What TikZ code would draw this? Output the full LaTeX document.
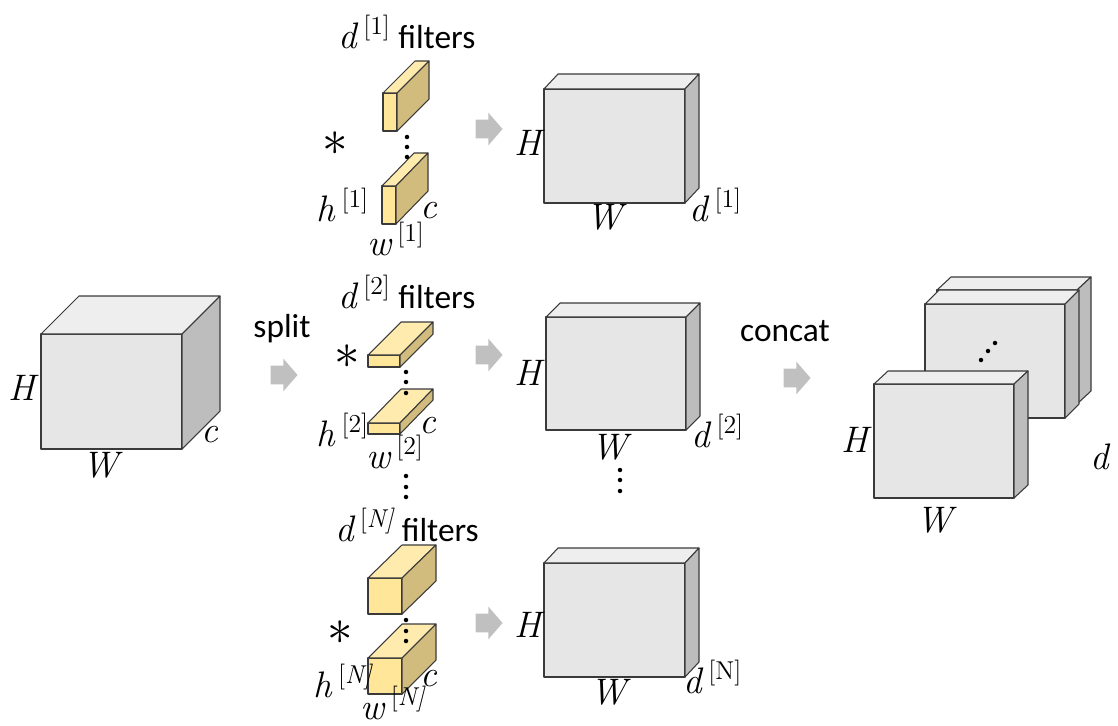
\documentclass[tikz,border=0pt]{standalone}
\usepackage{fontspec}
\newfontfamily\labelfont{Carlito}
\usetikzlibrary{shapes.arrows}

\definecolor{mapfront}{HTML}{E6E6E6}
\definecolor{maptop}{HTML}{EEEEEE}
\definecolor{mapside}{HTML}{BDBDBD}
\definecolor{filterfront}{HTML}{FFE699}
\definecolor{filtertop}{HTML}{FFEBAE}
\definecolor{filterside}{HTML}{D1BC7E}
\definecolor{edge}{HTML}{3A3A3A}
\definecolor{flowgray}{HTML}{C0C0C0}

\newcommand{\dimfont}{\fontsize{21}{21}\selectfont\rmfamily\itshape}
\newcommand{\idx}[1]{\,\textsuperscript{\upshape[#1]}}

% front face (x1,y1)-(x2,y2), depth (dx,dy), style prefix
\newcommand{\cuboid}[7]{%
  \filldraw[#7 front] (#1,#2) rectangle (#3,#4);
  \filldraw[#7 top] (#1,#2) -- ++(#5,-#6) -- ++(#3-#1,0) -- (#3,#2) -- cycle;
  \filldraw[#7 side] (#3,#2) -- ++(#5,-#6) -- ++(0,#4-#2) -- (#3,#4) -- cycle;
}

\tikzset
{
    box/.style    = {draw=edge, line width=0.6pt, line join=round},
    map front/.style    = {box, fill=mapfront},
    map top/.style      = {box, fill=maptop},
    map side/.style     = {box, fill=mapside},
    filter front/.style = {box, fill=filterfront},
    filter top/.style   = {box, fill=filtertop},
    filter side/.style  = {box, fill=filterside},
    flow/.style = {single arrow, fill=flowgray, draw=none, minimum height=0.54cm, inner xsep=0pt, inner ysep=0.18cm, single arrow head extend=0.14cm, single arrow tip angle=98},
    dim/.style  = {font=\dimfont, inner sep=0pt},
    word/.style = {font=\labelfont\fontsize{19}{19}\selectfont, inner sep=0pt},
    conv/.style = {font=\fontsize{22}{22}\selectfont, inner sep=0pt},
    dot/.style  = {fill=black}
}

\begin{document}
\begin{tikzpicture}[x=0.02cm, y=-0.02cm]
    \path[use as bounding box] (0,0) rectangle (1118,726);

    % input volume
    \cuboid{41}{334}{182}{449}{38}{38}{map}
    \node[dim] (inH) at (22,388) {H};
    \node[dim] (inW) at (101,465) {W};
    \node[dim] (inc) at (210,435) {c};
    \node[word] (split) at (282,329) {split};
    \node[flow] (splitarrow) at (280,375) {};

    % group 1
    \node[word] (f1label) at (407,32) {{\dimfont d\idx{1}} filters};
    \cuboid{383}{93}{397}{131}{32}{32}{filter}
    \cuboid{382}{186}{396}{224}{32}{33}{filter}
    \foreach \y in {137,147,157}
        \fill[dot] (407,\y) circle[radius=0.045cm];
    \node[conv] (f1conv) at (335,144) {\scalebox{1.4}{$\ast$}};
    \node[dim] (f1h) at (343,205) {h\idx{1}};
    \node[dim] (f1c) at (429,211) {c};
    \node[dim] (f1w) at (396,239) {w\idx{1}};
    \node[flow] (f1arrow) at (485,129) {};
    \cuboid{544}{89}{685}{203}{14}{15}{map}
    \node[dim] (m1H) at (528,143) {H};
    \node[dim] (m1W) at (605,217) {W};
    \node[dim] (m1d) at (716,205) {d\idx{1}};

    % group 2
    \node[word] (f2label) at (407,292) {{\dimfont d\idx{2}} filters};
    \cuboid{368}{355}{400}{367}{33}{33}{filter}
    \cuboid{368}{423}{400}{434}{33}{34}{filter}
    \foreach \y in {372,382,393}
        \fill[dot] (406,\y) circle[radius=0.045cm];
    \node[conv] (f2conv) at (347,357) {\scalebox{1.4}{$\ast$}};
    \node[dim] (f2h) at (343,430) {h\idx{2}};
    \node[dim] (f2c) at (428,426) {c};
    \node[dim] (f2w) at (395,452) {w\idx{2}};
    \node[flow] (f2arrow) at (485,355) {};
    \cuboid{546}{317}{686}{430}{14}{14}{map}
    \node[dim] (m2H) at (528,373) {H};
    \node[dim] (m2W) at (610,447) {W};
    \node[dim] (m2d) at (718,431) {d\idx{2}};

    % gaps between groups
    \foreach \y in {476,487,497}
        \fill[dot] (406,\y) circle[radius=0.045cm];
    \foreach \y in {470,480,491}
        \fill[dot] (620,\y) circle[radius=0.045cm];

    % group N
    \node[word] (fNlabel) at (407,525) {{\dimfont d\idx{\itshape N}} filters};
    \cuboid{368}{578}{402}{614}{34}{33}{filter}
    \cuboid{368}{658}{402}{694}{34}{34}{filter}
    \foreach \y in {620,631,641}
        \fill[dot] (406,\y) circle[radius=0.045cm];
    \node[conv] (fNconv) at (340,633) {\scalebox{1.4}{$\ast$}};
    \node[dim] (fNh) at (343,681) {h\idx{\itshape N}};
    \node[dim] (fNc) at (429,679) {c};
    \node[dim] (fNw) at (393,703) {w\idx{\itshape N}};
    \node[flow] (fNarrow) at (485,623) {};
    \cuboid{544}{563}{685}{677}{14}{15}{map}
    \node[dim] (mNH) at (528,625) {H};
    \node[dim] (mNW) at (609,692) {W};
    \node[dim] (mNd) at (713,677) {d\idx{N}};

    % concatenated output
    \node[word] (concat) at (785,331) {concat};
    \node[flow] (concatarrow) at (793,378) {};
    \cuboid{937}{290}{1077}{404}{14}{13}{map}
    \cuboid{925}{304}{1065}{418}{14}{14}{map}
    \foreach \x/\y in {981/360,988/351,995/343}
        \fill[dot] (\x,\y) circle[radius=0.045cm];
    \cuboid{874}{384}{1014}{498}{14}{13}{map}
    \node[dim] (outH) at (855,440) {H};
    \node[dim] (outW) at (935,520) {W};
    \node[dim] (outd) at (1100,457) {d};
\end{tikzpicture}
\end{document}
